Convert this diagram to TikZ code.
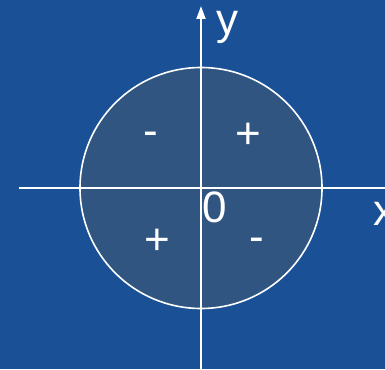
\documentclass[tikz,border=0pt]{standalone}
\usepackage{fontspec}
\setmainfont{Liberation Sans}
\usetikzlibrary{arrows.meta}
\definecolor{bgblue}{RGB}{26,80,150}
\definecolor{discblue}{RGB}{47,85,128}
\tikzset{
  axisline/.style={draw=white, line width=2pt},
  lbl/.style={text=white, inner sep=0pt, font=\fontsize{44}{44}\selectfont},
}
\begin{document}
\begin{tikzpicture}[x=1pt, y=-1pt]
\useasboundingbox (0,0) rectangle (385,369);
\fill[bgblue] (0,0) rectangle (385,369);
\coordinate (O) at (201,188);
\fill[discblue] (O) ellipse [x radius=121, y radius=120.5];
\coordinate (xl) at (19,188);
\coordinate (xr) at (385,188);
\coordinate (yb) at (201,369);
\coordinate (yt) at (201,6);
\draw[axisline] (xl) -- (xr);
\draw[axisline, -{Triangle[width=9pt,length=13pt]}] (yb) -- (yt);
\draw[draw=white, line width=1.6pt] (O) ellipse [x radius=121, y radius=120.5];
\node[lbl] (ylab) at (227,27.5) {y};
\node[lbl] (xlab) at (384,214) {x};
\node[lbl] (zero) at (215,207.5) {0};
\node[lbl] (q2) at (150.5,139) {-};
\node[lbl] (q1) at (248,136) {+};
\node[lbl] (q3) at (157.5,241.5) {+};
\node[lbl] (q4) at (256.5,245) {-};
\end{tikzpicture}
\end{document}
